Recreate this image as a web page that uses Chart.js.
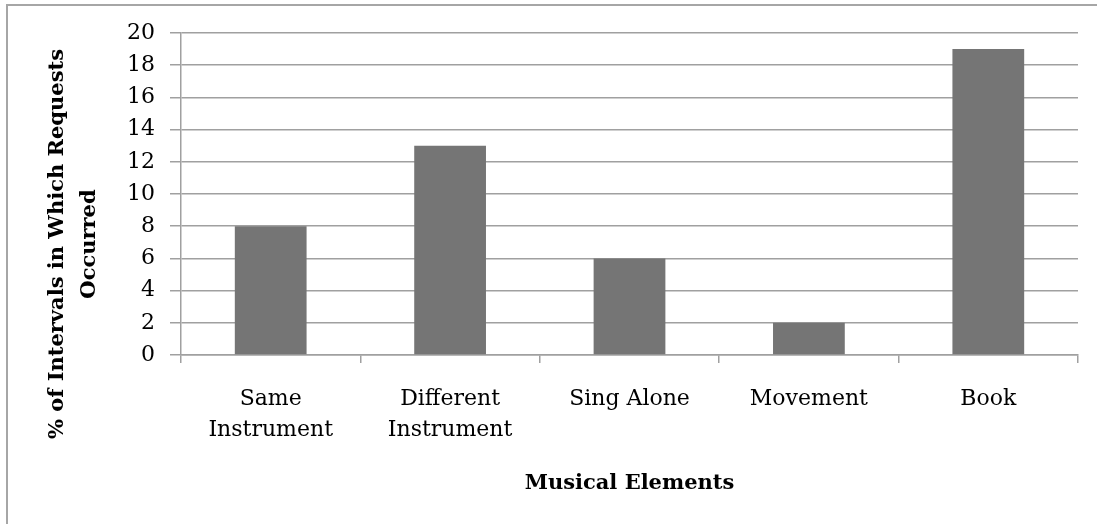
<!DOCTYPE html>
<html>
<head>
<meta charset="utf-8">
<script src="https://cdn.jsdelivr.net/npm/chart.js@4/dist/chart.umd.min.js"></script>
<style>
  html, body { margin: 0; padding: 0; background: #fff; }
  #wrap { position: relative; width: 1097px; height: 524px; overflow: hidden; }
  #frame { position: absolute; left: 6px; top: 4px; width: 1200px; height: 600px;
           border-left: 2px solid #a6a6a6; border-top: 2px solid #a6a6a6; }
  canvas { position: absolute; left: 0; top: 0; }
</style>
</head>
<body>
<div id="wrap">
  <div id="frame"></div>
  <canvas id="chart-canvas" width="1097" height="524"></canvas>
</div>
<script>
const categories = [['Same', 'Instrument'], ['Different', 'Instrument'], 'Sing Alone', 'Movement', 'Book'];
const requestPct = [8, 13, 6, 2, 19];
const yTicks = [0, 2, 4, 6, 8, 10, 12, 14, 16, 18, 20];
const yTitle = ['% of Intervals in Which Requests', 'Occurred'];

const FONT = "'DejaVu Serif', serif";
const GRID = '#a0a0a0';

// y title sits a bit lower than the axis middle, so draw it by hand
const yTitlePlugin = {
  id: 'yTitle',
  afterDraw(chart) {
    const c = chart.ctx;
    c.save();
    c.font = "bold 21px " + FONT;
    c.fillStyle = '#000';
    c.textAlign = 'center';
    c.textBaseline = 'middle';
    c.translate(58, 244);
    c.rotate(-Math.PI / 2);
    yTitle.forEach((line, i) => c.fillText(line, 0, i * 32));
    c.restore();
  },
};

const ctx = document.getElementById('chart-canvas');
new Chart(ctx, {
  type: 'bar',
  data: {
    labels: categories,
    datasets: [{
      label: '% of Intervals',
      data: requestPct,
      backgroundColor: '#757575',
      borderWidth: 0,
      categoryPercentage: 1,
      barPercentage: 0.4,
    }],
  },
  options: {
    responsive: false,
    animation: false,
    layout: { padding: { top: 33, right: 19, left: 0, bottom: 0 } },
    plugins: { legend: { display: false }, tooltip: { enabled: false } },
    scales: {
      x: {
        grid: { drawOnChartArea: false, drawTicks: true, tickLength: 8, color: GRID, lineWidth: 1.5 },
        border: { color: GRID, width: 1.5 },
        ticks: { color: '#000', padding: 21, font: { family: FONT, size: 22, lineHeight: 1.4 } },
        title: {
          display: true,
          text: 'Musical Elements',
          color: '#000',
          font: { family: FONT, size: 21, weight: 'bold', lineHeight: 1.2 },
          padding: { top: 0, bottom: 28 },
        },
        afterFit: (scale) => { scale.height = 524 - 355; },
      },
      y: {
        min: 0,
        max: 20,
        afterBuildTicks: (scale) => { scale.ticks = yTicks.map((v) => ({ value: v })); },
        grid: { color: GRID, lineWidth: 1.5, tickLength: 11 },
        border: { color: GRID, width: 1.5 },
        ticks: { color: '#000', padding: 15, font: { family: FONT, size: 22 } },
        afterFit: (scale) => { scale.width = 181; },
      },
    },
  },
  plugins: [yTitlePlugin],
});
</script>
</body>
</html>
